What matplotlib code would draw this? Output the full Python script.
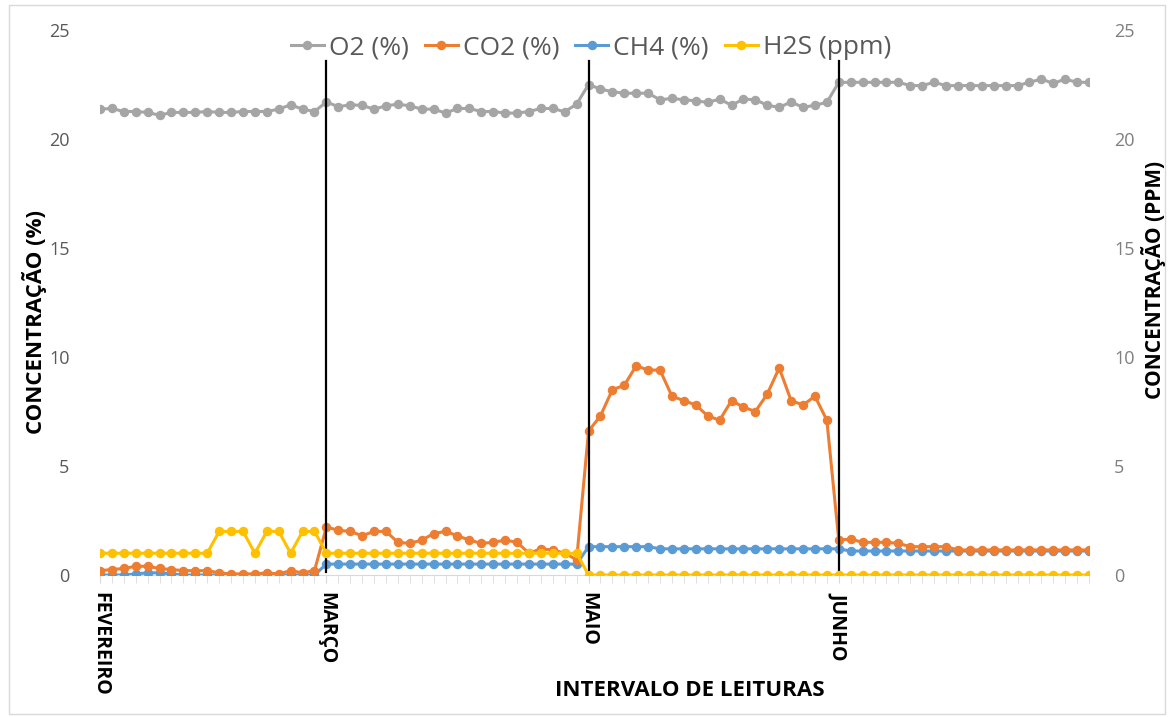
import matplotlib
matplotlib.use("Agg")
import matplotlib.pyplot as plt
import numpy as np

# ---- data ----
o2 = [21.37, 21.4, 21.26, 21.26, 21.22, 21.09, 21.22, 21.22, 21.22, 21.26, 21.22, 21.22, 21.26, 21.26, 21.26, 21.37, 21.57, 21.37, 21.26,
      21.7, 21.48, 21.57, 21.54, 21.37, 21.52, 21.6, 21.52, 21.37, 21.37, 21.19, 21.4, 21.4, 21.26, 21.26, 21.19, 21.19, 21.26, 21.4, 21.4, 21.25, 21.6,
      22.5, 22.29, 22.17, 22.1, 22.1, 22.1, 21.8, 21.86, 21.8, 21.75, 21.68, 21.83, 21.55, 21.83, 21.8, 21.55, 21.45, 21.7, 21.45, 21.55, 21.68,
      22.6, 22.6, 22.6, 22.6, 22.6, 22.6, 22.45, 22.45, 22.6, 22.45, 22.45, 22.45, 22.45, 22.45, 22.45, 22.45, 22.6, 22.75, 22.55, 22.75, 22.6, 22.6]
co2 = [0.2, 0.25, 0.3, 0.4, 0.4, 0.3, 0.25, 0.2, 0.2, 0.2, 0.1, 0.05, 0.05, 0.05, 0.1, 0.05, 0.2, 0.1, 0.2,
       2.2, 2.05, 2.0, 1.8, 2.0, 2.0, 1.5, 1.45, 1.6, 1.9, 2.0, 1.8, 1.6, 1.45, 1.5, 1.6, 1.5, 1.0, 1.2, 1.15, 1.0, 0.7,
       6.6, 7.3, 8.5, 8.7, 9.6, 9.4, 9.4, 8.2, 8.0, 7.8, 7.3, 7.1, 8.0, 7.7, 7.5, 8.3, 9.5, 8.0, 7.8, 8.2, 7.1,
       1.6, 1.65, 1.5, 1.5, 1.5, 1.45, 1.3, 1.3, 1.3, 1.3, 1.15, 1.15, 1.15, 1.15, 1.15, 1.15, 1.15, 1.15, 1.15, 1.15, 1.15, 1.15]
ch4 = [0, 0, 0, 0.05, 0.1, 0.1, 0.05, 0, 0, 0, 0, 0, 0, 0, 0, 0, 0, 0, 0,
       0.5, 0.5, 0.5, 0.5, 0.5, 0.5, 0.5, 0.5, 0.5, 0.5, 0.5, 0.5, 0.5, 0.5, 0.5, 0.5, 0.5, 0.5, 0.5, 0.5, 0.5, 0.5,
       1.3, 1.3, 1.3, 1.3, 1.3, 1.3,
       1.2, 1.2, 1.2, 1.2, 1.2, 1.2, 1.2, 1.2, 1.2, 1.2, 1.2, 1.2, 1.2, 1.2, 1.2, 1.2,
       1.1, 1.1, 1.1, 1.1, 1.1, 1.1, 1.1, 1.1, 1.1, 1.1, 1.1, 1.1, 1.1, 1.1, 1.1, 1.1, 1.1, 1.1, 1.1, 1.1, 1.1]
h2s = [1, 1, 1, 1, 1, 1, 1, 1, 1, 1, 2, 2, 2, 1, 2, 2, 1, 2, 2,
       1, 1, 1, 1, 1, 1, 1, 1, 1, 1, 1, 1, 1, 1, 1, 1, 1, 1, 1, 1, 1, 1,
       0, 0, 0, 0, 0, 0, 0, 0, 0, 0, 0, 0, 0, 0, 0, 0, 0, 0, 0, 0, 0,
       0, 0, 0, 0, 0, 0, 0, 0, 0, 0, 0, 0, 0, 0, 0, 0, 0, 0, 0, 0, 0, 0]
month_idx = [0, 19, 41, 62]
month_labels = ["FEVEREIRO", "MARÇO", "MAIO", "JUNHO"]
divider_idx = [19, 41, 62]
y_ticks = [0, 5, 10, 15, 20, 25]

FONT = ["Open Sans", "DejaVu Sans"]
plt.rcParams['font.family'] = FONT

W, H = 1171, 717
fig = plt.figure(figsize=(W / 100, H / 100), dpi=100)
L, R, B, T = 100, 1089, 575, 30
ax = fig.add_axes([L / W, 1 - B / H, (R - L) / W, (B - T) / H])
ax2 = ax.twinx()

x = np.arange(len(o2))
lw, ms = 2.2, 5.8
c_o2, c_co2, c_ch4, c_h2s = "#a5a5a5", "#ed7d31", "#5b9bd5", "#ffc000"

l1, = ax.plot(x, o2, color=c_o2, lw=lw, marker='o', ms=ms, label="O2 (%)", zorder=3)
l3, = ax.plot(x, ch4, color=c_ch4, lw=lw, marker='o', ms=ms, label="CH4 (%)", zorder=3)
l2, = ax.plot(x, co2, color=c_co2, lw=lw, marker='o', ms=ms, label="CO2 (%)", zorder=4)
l4, = ax2.plot(x, h2s, color=c_h2s, lw=lw, marker='o', ms=ms, label="H2S (ppm)", zorder=3)

for d in divider_idx:
    ax.axvline(d, ymin=0.006, ymax=0.944, color="black", lw=1.6, zorder=5)

for a in (ax, ax2):
    a.set_ylim(0, 25)
    a.set_xlim(0, len(o2) - 1)
    a.set_yticks(y_ticks)
    for s in a.spines.values():
        s.set_visible(False)

ax.spines['bottom'].set_visible(True)
ax.spines['bottom'].set_color("#d9d9d9")
ax.tick_params(axis='y', length=0, pad=22, labelsize=13, labelcolor="#595959")
ax2.tick_params(axis='y', length=0, pad=18, labelsize=13, labelcolor="#7f7f7f")

ax.set_xticks(month_idx)
ax.set_xticklabels(month_labels, rotation=-90, fontsize=14, fontweight='bold', color="black", va='top')
ax.set_xticks(x, minor=True)
ax.tick_params(axis='x', which='both', length=6, color="#d9d9d9", pad=6)

fig.text(690 / W, 1 - 690 / H, "INTERVALO DE LEITURAS", ha='center', va='center',
         fontsize=16, fontweight='bold', color='black')
fig.text(35 / W, 1 - 322 / H, "CONCENTRAÇÃO (%)", ha='center', va='center', rotation=90,
         fontsize=16, fontweight='bold', color='black')
fig.text(1154 / W, 1 - 280 / H, "CONCENTRAÇÃO (PPM)", ha='center', va='center', rotation=90,
         fontsize=15, fontweight='bold', color='black')

leg = fig.legend(handles=[l1, l2, l3, l4], loc='center', bbox_to_anchor=(591 / W, 1 - 48 / H),
                 ncol=4, frameon=False, fontsize=19, handlelength=1.25, handletextpad=0.2,
                 columnspacing=0.6, labelcolor="#595959")

fig.patches.append(plt.Rectangle((9 / W, 3 / H), (W - 15) / W, (H - 8) / H, transform=fig.transFigure,
                                 fill=False, edgecolor="#d9d9d9", lw=1))

fig.savefig("out.png", dpi=100, facecolor="white")
